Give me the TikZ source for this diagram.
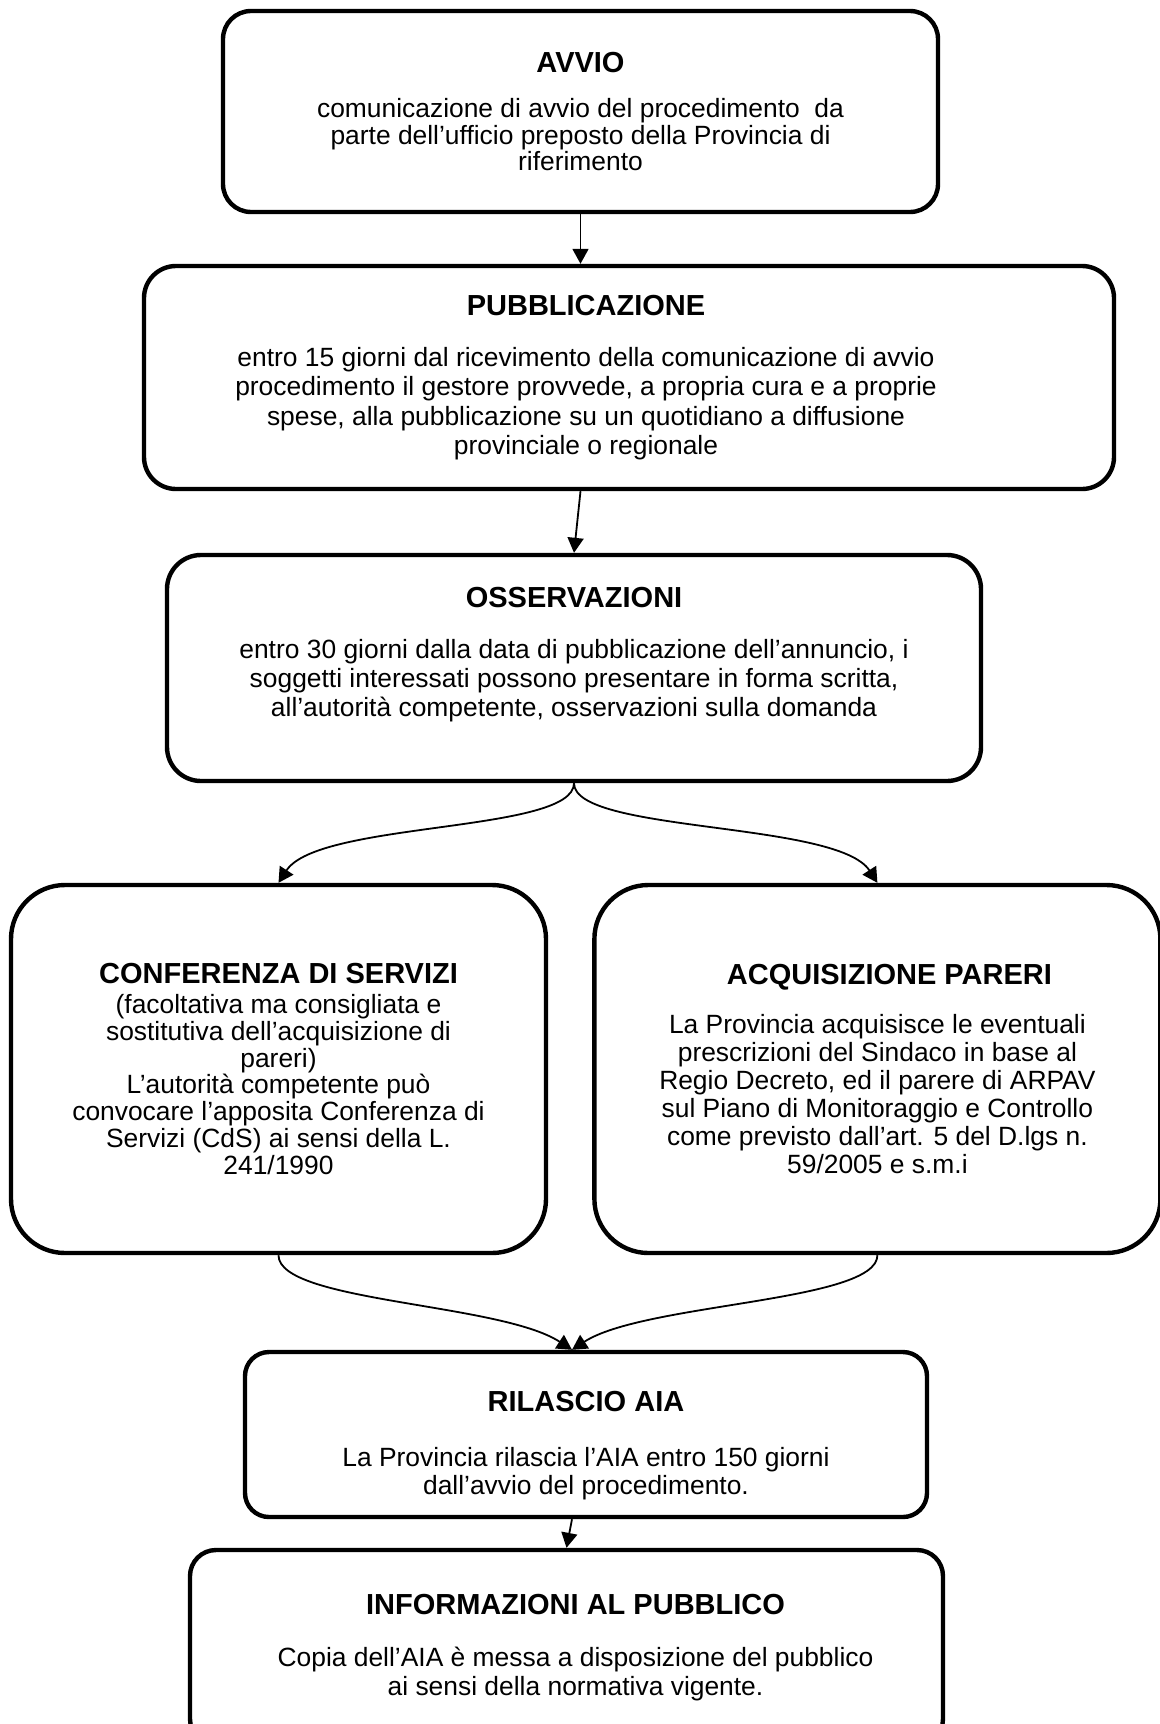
\documentclass[tikz,border=0pt]{standalone}
\usepackage{fontspec}
\setmainfont{Liberation Sans}
\usetikzlibrary{arrows.meta,positioning}

\newcommand{\steptitle}[1]{{\fontsize{14.5}{16}\selectfont\bfseries #1}}
\newcommand{\padbelow}[1]{\rule[-#1]{0pt}{#1}}
\newcommand{\padabove}[1]{\rule{0pt}{#1}}

\begin{document}
\begin{tikzpicture}[x=0.5pt,y=-0.5pt,
 font=\fontsize{13.2}{14}\selectfont,
 stage/.style={draw,line width=2.2pt,rounded corners=#1,align=center,inner sep=0pt},
 stage/.default=16pt,
 flow/.style={-{Triangle[length=7.5pt,width=8pt]},line width=0.9pt}]
\clip (0,0) rectangle (1160,1724);
\node[stage=14pt,minimum width=357.5pt,minimum height=100.5pt,font=\fontsize{13.2}{13.2}\selectfont] (avvio) at (580.5,111.5)
 {\steptitle{AVVIO}\\[9.5pt]comunicazione di avvio del procedimento\ \ da\\parte dell’ufficio preposto della Provincia di\\riferimento};
\node[stage=16pt,minimum width=485pt,minimum height=111.5pt,font=\fontsize{13.2}{14.6}\selectfont] (pub) at (629,377.5)
 {\parbox{400pt}{\centering\steptitle{PUBBLICAZIONE}\\[11pt]entro 15 giorni dal ricevimento della comunicazione di avvio\\procedimento il gestore provvede, a propria cura e a proprie\\spese, alla pubblicazione su un quotidiano a diffusione\\provinciale o regionale}\hspace{43pt}};
\node[stage=17pt,minimum width=407pt,minimum height=113pt,font=\fontsize{13.2}{14.6}\selectfont] (oss) at (574,668)
 {\steptitle{OSSERVAZIONI}\\[11pt]entro 30 giorni dalla data di pubblicazione dell’annuncio, i\\soggetti interessati possono presentare in forma scritta,\\all’autorità competente, osservazioni sulla domanda\padbelow{16pt}};
\node[stage=27pt,minimum width=267.5pt,minimum height=184pt,font=\fontsize{13.2}{13.4}\selectfont] (conf) at (278.5,1069)
 {\steptitle{CONFERENZA DI SERVIZI}\\[1.5pt](facoltativa ma consigliata e\\sostitutiva dell’acquisizione di\\pareri)\\L’autorità competente può\\convocare l’apposita Conferenza di\\Servizi (CdS) ai sensi della L.\\241/1990};
\node[stage=27pt,minimum width=283pt,minimum height=184pt,right=22pt of conf] (acq)
 {\hspace*{12pt}\steptitle{ACQUISIZIONE PARERI}\\[10.5pt]La Provincia acquisisce le eventuali\\prescrizioni del Sindaco in base al\\Regio Decreto, ed il parere di ARPAV\\sul Piano di Monitoraggio e Controllo\\come previsto dall’art. 5 del D.lgs n.\\59/2005 e s.m.i};
\node[stage=12pt,minimum width=341pt,minimum height=82.5pt] (ril) at (586,1434.5)
 {\padabove{21pt}\steptitle{RILASCIO AIA}\\[13.5pt]La Provincia rilascia l’AIA entro 150 giorni\\dall’avvio del procedimento.};
\node[stage=13pt,minimum width=376.5pt,minimum height=97.5pt,font=\fontsize{13.2}{14.3}\selectfont] (info) at (566.5,1647.5)
 {\hspace{9pt}\parbox{320pt}{\centering\steptitle{INFORMAZIONI AL PUBBLICO}\\[12pt]Copia dell’AIA è messa a disposizione del pubblico\\ai sensi della normativa vigente.}};
% connectors
\draw[flow] (avvio.south) -- (avvio.south |- pub.north);
\draw[flow] (avvio.south |- pub.south) -- (oss.north);
\draw[flow] (oss.south) .. controls +(0,50) and +(40,-62) .. (conf.north);
\draw[flow] (oss.south) .. controls +(0,50) and +(-40,-62) .. (acq.north);
\coordinate (merge) at ([xshift=-7pt]ril.north);
\draw[flow] (conf.south) .. controls +(0,47) and +(-72,-47) .. (merge);
\draw[flow] (acq.south) .. controls +(0,47) and +(72,-47) .. (merge);
\draw[flow] (merge |- ril.south) -- (info.north);
\end{tikzpicture}
\end{document}
